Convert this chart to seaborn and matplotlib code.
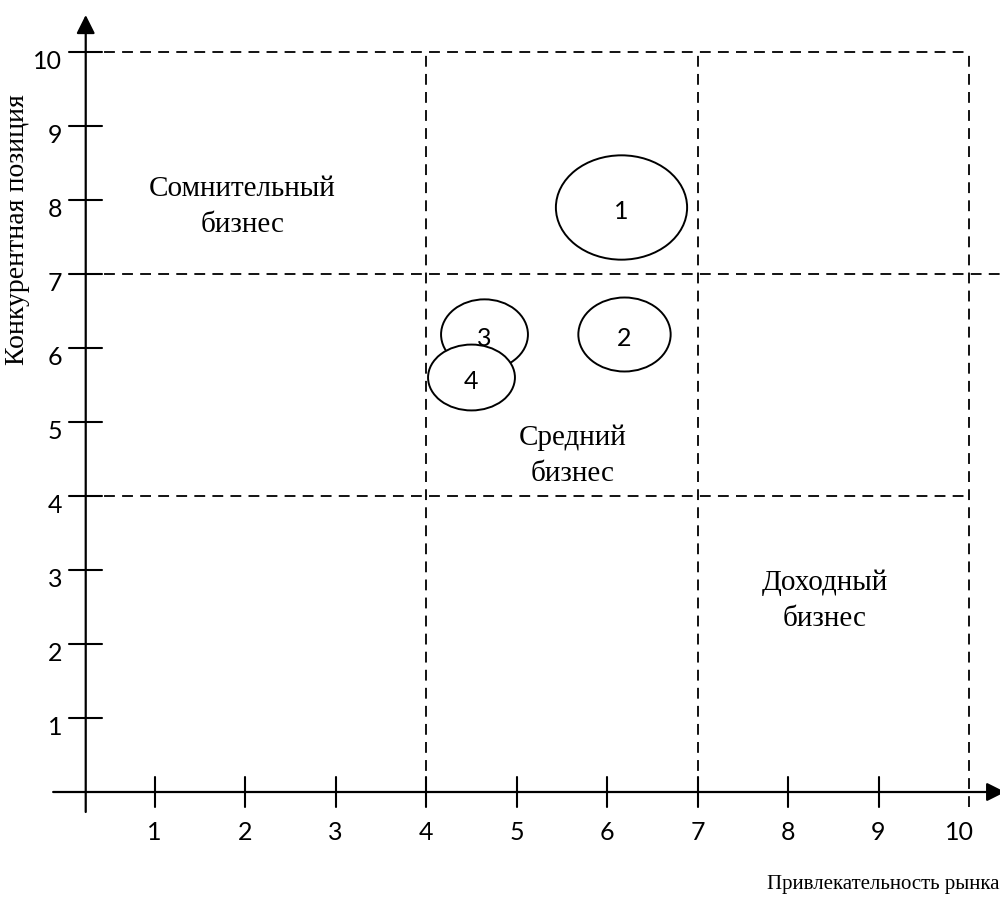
import numpy as np
import pandas as pd
import seaborn as sns
import matplotlib.pyplot as plt
from matplotlib.path import Path

# business units on the matrix
units = ["1", "2", "3", "4"]
attractiveness = [6.16, 6.19, 4.64, 4.50]   # x, market attractiveness
position = [7.91, 6.19, 6.19, 5.61]         # y, competitive position
bubble_w = [1.45, 1.02, 0.96, 0.96]
bubble_h = [1.41, 1.00, 0.95, 0.89]

ticks = list(range(1, 11))
bounds = [4, 7, 10]

zones = ["Сомнительный\nбизнес", "Средний\nбизнес", "Доходный\nбизнес"]

df = pd.DataFrame({"unit": units, "x": attractiveness, "y": position,
                   "w": bubble_w, "h": bubble_h})

sns.set_theme(style="white")
plt.rcParams["font.family"] = ["Liberation Serif", "DejaVu Serif"]
plt.rcParams["text.color"] = "black"

DPI = 100
XPX, YPX = 90.5, 74.0   # pixels per unit on each axis
fig = plt.figure(figsize=(10, 9), dpi=DPI)
ax = fig.add_axes([0, 0, 1, 1])
ax.set_xlim(-64 / XPX, (1000 - 64) / XPX)
ax.set_ylim(-108 / YPX, 792 / YPX)
ax.axis("off")

x0 = 0.24  # where the vertical axis is drawn
arrow = dict(arrowstyle="-|>", color="black", lw=1.6, mutation_scale=28,
             shrinkA=0, shrinkB=0)
ax.annotate("", xy=(x0, 10.5), xytext=(x0, -0.27), arrowprops=arrow,
            annotation_clip=False)
ax.annotate("", xy=(10.40, 0), xytext=(-0.12, 0), arrowprops=arrow,
            annotation_clip=False)

tick_font = dict(family=["Lato", "DejaVu Sans"], fontsize=18, color="black")
for t in ticks:
    if t < 10:
        ax.plot([t, t], [-0.2, 0.2], color="black", lw=1.5)
        ax.text(t, -0.55, str(t), ha="center", va="center", **tick_font)
    else:
        ax.text(t - 0.1, -0.55, str(t), ha="center", va="center", **tick_font)
    ax.plot([x0 - 0.18, x0 + 0.18], [t, t], color="black", lw=1.5)
    ax.text(x0 - 0.26, t - 0.13, str(t), ha="right", va="center", **tick_font)

# dashed zone boundaries
dash = dict(color="black", lw=1.3, linestyle=(0, (6, 4)), zorder=1)
for b in bounds:
    ax.plot([b, b], [-0.2, 10], **dash)
ax.plot([x0, 10], [10, 10], **dash)
ax.plot([x0, 10.4], [7, 7], **dash)
ax.plot([x0, 10], [4, 4], **dash)

# bubbles, drawn one by one so later ones cover earlier labels
for i, row in df.iterrows():
    wpx, hpx = row.w * XPX, row.h * YPX
    circ = Path.unit_circle()
    shape = Path(circ.vertices * [wpx / hpx, 1.0], circ.codes)
    size_pt = wpx * 72 / DPI
    sns.scatterplot(data=df.iloc[[i]], x="x", y="y", ax=ax, marker=shape,
                    s=size_pt ** 2, color="white", edgecolor="black",
                    linewidth=1.4, zorder=3 + 2 * i, legend=False)
    ax.text(row.x, row.y - 0.06, row.unit, ha="center", va="center",
            zorder=4 + 2 * i, **tick_font)

zone_font = dict(fontsize=21, ha="center", va="center", linespacing=1.5,
                 color="black")
ax.text(1.97, 7.91, zones[0], **zone_font)
ax.text(5.62, 4.54, zones[1], **zone_font)
ax.text(8.41, 2.58, zones[2], **zone_font)

ax.text(10.34, -1.25, "Привлекательность рынка", ha="right", va="center",
        fontsize=15, color="black")
ax.text(-0.51, 7.6, "Конкурентная позиция", ha="center", va="center",
        rotation=90, fontsize=20, color="black")

fig.savefig("out.png", dpi=DPI)
